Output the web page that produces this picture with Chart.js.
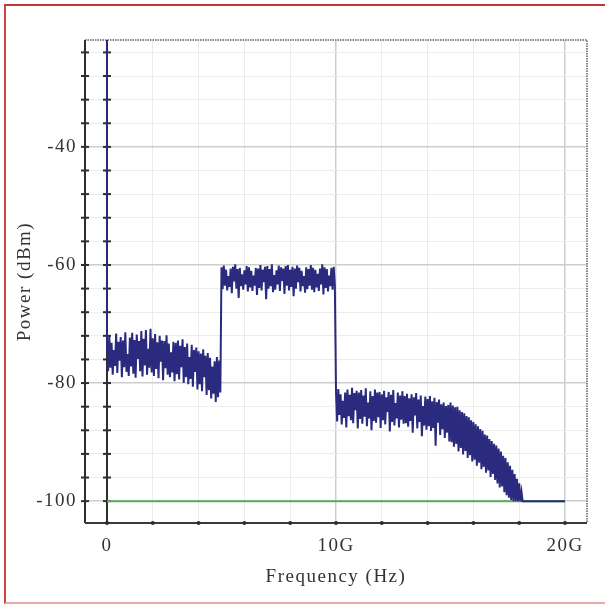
<!DOCTYPE html>
<html>
<head>
<meta charset="utf-8">
<script src="https://cdn.jsdelivr.net/npm/chart.js@4.4.1/dist/chart.umd.min.js"></script>
<style>
  html, body { margin: 0; padding: 0; background: #fff; overflow: hidden; }
  #wrap { position: relative; width: 605px; height: 604px; }
  #edge { position: absolute; left: 4px; top: 4px; width: 620px; height: 596px;
          border-top: 2px solid #c2353a; border-left: 2px solid #c9474b;
          border-bottom: 2px solid #e8a9aa; pointer-events: none; }
</style>
</head>
<body>
<div id="wrap">
  <canvas id="myChart" width="605" height="604"></canvas>
  <div id="edge"></div>
</div>
<script>
// axis ranges (GHz / dBm)
var xMin = -0.96, xMax = 20.96;
var yMin = -103.7, yMax = -21.9;
var xTickValues = [0, 2, 4, 6, 8, 10, 12, 14, 16, 18, 20];
var yTickValues = [-100, -96, -92, -88, -84, -80, -76, -72, -68, -64, -60, -56, -52, -48, -44, -40, -36, -32, -28, -24];

var step = 0.05;
var dcFreq = [0, 0];
var dcPower = [-10, -72.6];

var band1Start = 0;
var band1Power = [
  -72.6,-78.0,-71.9,-77.4,-73.2,-78.6,-74.4,-77.1,-71.6,-78.3,-73.0,-76.2,-72.2,-79.0,-72.8,-77.3,-71.4,-78.1,-75.1,-78.8,
  -72.3,-77.2,-71.5,-78.4,-72.7,-79.1,-71.8,-75.9,-72.9,-78.0,-71.2,-78.9,-72.5,-77.0,-71.0,-78.6,-74.2,-77.4,-70.8,-78.2,
  -72.4,-78.8,-71.7,-77.6,-73.1,-79.2,-72.0,-76.4,-72.8,-79.5,-72.9,-77.5,-71.9,-78.6,-73.3,-79.0,-74.8,-78.2,-73.0,-79.7,
  -73.2,-78.5,-72.8,-79.4,-73.7,-77.3,-72.6,-80.0,-73.9,-79.0,-73.3,-80.2,-75.6,-79.3,-73.5,-80.6,-74.4,-78.1,-74.0,-81.1,
  -74.6,-80.2,-75.0,-81.4,-74.3,-79.0,-75.4,-82.0,-74.9,-81.2,-75.7,-82.6,-77.2,-81.8,-76.3,-83.2,-75.6,-82.4,-76.2,-81.6
];

var band2Start = 5;
var band2Power = [
  -60.4,-64.1,-60.1,-63.5,-60.8,-64.3,-61.9,-63.7,-60.6,-64.8,-60.3,-62.8,-59.9,-64.0,-60.7,-65.6,-60.5,-63.6,-61.6,-64.2,
  -60.9,-63.3,-60.2,-64.5,-60.4,-63.8,-61.0,-64.4,-61.8,-63.5,-60.5,-65.1,-60.6,-63.9,-60.0,-64.3,-60.8,-62.9,-60.3,-65.8,
  -60.2,-64.0,-60.7,-63.6,-59.9,-64.6,-61.7,-64.2,-60.9,-63.3,-60.1,-64.4,-60.4,-62.7,-60.6,-64.9,-60.2,-63.5,-60.0,-64.3,
  -60.8,-63.7,-60.3,-65.3,-60.6,-64.0,-60.1,-62.9,-60.5,-64.5,-61.0,-63.6,-61.9,-64.7,-60.4,-64.1,-60.7,-63.5,-60.0,-64.2,
  -60.5,-64.6,-60.8,-63.8,-61.5,-64.4,-60.6,-63.3,-59.9,-65.0,-60.4,-63.9,-60.7,-64.5,-61.8,-63.6,-60.5,-64.2,-60.3,-63.5
];

var band3Start = 10;
var band3Power = [
  -81.4,-86.5,-81.0,-85.4,-81.9,-87.0,-83.0,-85.9,-81.6,-87.5,-81.1,-85.6,-82.0,-86.3,-80.8,-86.8,-81.7,-84.6,-81.3,-87.7,
  -81.6,-86.1,-81.2,-86.9,-82.1,-85.7,-80.9,-87.3,-83.3,-86.0,-81.4,-88.0,-82.2,-86.4,-81.1,-86.7,-81.6,-85.8,-81.5,-87.6,
  -81.9,-86.3,-81.3,-87.0,-82.4,-84.9,-81.5,-88.2,-82.0,-86.6,-81.2,-87.2,-83.4,-86.0,-81.6,-87.5,-82.1,-86.2,-81.4,-86.9,
  -82.2,-86.8,-81.8,-87.4,-82.6,-86.4,-81.9,-88.4,-82.4,-85.5,-81.7,-87.7,-82.8,-86.6,-82.1,-89.0,-83.9,-87.2,-82.3,-87.9,
  -82.7,-87.3,-82.2,-88.1,-83.1,-87.6,-82.5,-90.6,-83.2,-86.7,-82.8,-88.8,-83.6,-87.8,-83.3,-89.3,-83.9,-88.4,-83.7,-89.9,
  -83.3,-90.0,-83.8,-90.8,-84.1,-90.3,-84.0,-91.6,-84.6,-91.0,-84.9,-92.1,-85.1,-91.5,-85.6,-92.7,-85.8,-92.2,-86.3,-93.3,
  -86.6,-93.0,-87.0,-94.0,-87.3,-93.5,-87.8,-94.6,-88.1,-94.2,-88.7,-95.2,-88.9,-94.8,-89.5,-95.9,-89.8,-95.4,-90.3,-96.4,
  -90.6,-97.0,-91.1,-97.7,-91.6,-97.5,-92.3,-98.5,-92.7,-99.0,-93.4,-99.4,-94.0,-99.8,-94.7,-100,-95.4,-100,-96.2,-100,
  -97.0,-100,-98.4
];

var tailFreq = [18.15, 20];
var tailPower = [-100, -100];

var floorFreq = [0, 20];
var floorPower = [-100, -100];

function pts(start, arr) {
  return arr.map(function (p, i) { return {x: +(start + i * step).toFixed(2), y: p}; });
}
function pairs(xs, ys) {
  return xs.map(function (v, i) { return {x: v, y: ys[i]}; });
}

var trace = [].concat(
  pairs(dcFreq, dcPower),
  pts(band1Start, band1Power),
  pts(band2Start, band2Power),
  pts(band3Start, band3Power),
  pairs(tailFreq, tailPower)
);

var textFont = {family: 'Liberation Serif', size: 19};
var textColor = '#333';

var framePlugin = {
  id: 'frame',
  beforeDraw: function (chart) {
    chart.ctx.letterSpacing = '1.5px';
  },
  beforeDatasetsDraw: function (chart) {
    var ctx = chart.ctx, a = chart.chartArea, x = chart.scales.x, y = chart.scales.y;
    ctx.save();
    // dotted top/right frame
    ctx.strokeStyle = '#858585';
    ctx.lineWidth = 2;
    ctx.setLineDash([1.5, 1]);
    ctx.beginPath();
    ctx.moveTo(a.left, a.top);
    ctx.lineTo(a.right, a.top);
    ctx.lineTo(a.right, a.bottom);
    ctx.stroke();
    ctx.setLineDash([]);
    // left axis and zero line, with crosses
    ctx.strokeStyle = '#2e2e2e';
    [a.left, x.getPixelForValue(0)].forEach(function (px) {
      ctx.lineWidth = 2;
      ctx.beginPath();
      ctx.moveTo(px, a.top);
      ctx.lineTo(px, a.bottom);
      ctx.stroke();
      y.ticks.forEach(function (t) {
        var py = y.getPixelForValue(t.value);
        ctx.beginPath();
        ctx.moveTo(px - 4, py);
        ctx.lineTo(px + 4, py);
        ctx.stroke();
      });
    });
    // bottom axis with dots
    ctx.strokeStyle = '#3a3a3a';
    ctx.beginPath();
    ctx.moveTo(a.left, a.bottom);
    ctx.lineTo(a.right, a.bottom);
    ctx.stroke();
    ctx.fillStyle = '#2e2e2e';
    x.ticks.forEach(function (t) {
      var px = x.getPixelForValue(t.value);
      ctx.beginPath();
      ctx.arc(px, a.bottom, 2, 0, Math.PI * 2);
      ctx.fill();
    });
    ctx.restore();
  }
};

var ctx = document.getElementById('myChart').getContext('2d');
var myChart = new Chart(ctx, {
  type: 'scatter',
  data: {
    datasets: [{
      data: trace,
      showLine: true,
      borderColor: '#2a2a7e',
      backgroundColor: '#2a2a7e',
      borderWidth: 2,
      pointRadius: 0,
      tension: 0
    }, {
      data: pairs(floorFreq, floorPower),
      showLine: true,
      borderColor: '#5dab5d',
      borderWidth: 2,
      pointRadius: 0
    }]
  },
  options: {
    responsive: false,
    animation: false,
    events: [],
    layout: {padding: {left: 0, top: 40, right: 18, bottom: 0}},
    plugins: {legend: {display: false}, tooltip: {enabled: false}},
    scales: {
      x: {
        type: 'linear',
        min: xMin,
        max: xMax,
        afterBuildTicks: function (s) { s.ticks = xTickValues.map(function (v) { return {value: v}; }); },
        afterFit: function (s) { s.height = 81; },
        border: {display: false},
        grid: {
          drawTicks: false,
          color: function (c) { return c.tick && c.tick.value % 10 === 0 ? '#cdcdcd' : '#ececec'; },
          lineWidth: function (c) { return c.tick && c.tick.value % 10 === 0 ? 1.5 : 1; }
        },
        ticks: {
          autoSkip: false,
          maxRotation: 0,
          padding: 12,
          font: textFont,
          color: textColor,
          callback: function (v) { return v === 0 ? '0' : (v % 10 === 0 ? v + 'G' : ''); }
        },
        title: {display: true, text: 'Frequency (Hz)', font: textFont, color: textColor, padding: {top: 0, bottom: 16}}
      },
      y: {
        type: 'linear',
        min: yMin,
        max: yMax,
        afterBuildTicks: function (s) { s.ticks = yTickValues.map(function (v) { return {value: v}; }); },
        afterFit: function (s) { s.width = 85; },
        border: {display: false},
        grid: {
          drawTicks: false,
          color: function (c) { return c.tick && c.tick.value % 20 === 0 ? '#cdcdcd' : '#ececec'; },
          lineWidth: function (c) { return c.tick && c.tick.value % 20 === 0 ? 1.5 : 1; }
        },
        ticks: {
          autoSkip: false,
          padding: 8,
          font: textFont,
          color: textColor,
          callback: function (v) { return v % 20 === 0 ? String(v) : ''; }
        },
        title: {display: true, text: 'Power (dBm)', font: textFont, color: textColor, padding: {top: 14, bottom: 0}}
      }
    }
  },
  plugins: [framePlugin]
});
</script>
</body>
</html>
